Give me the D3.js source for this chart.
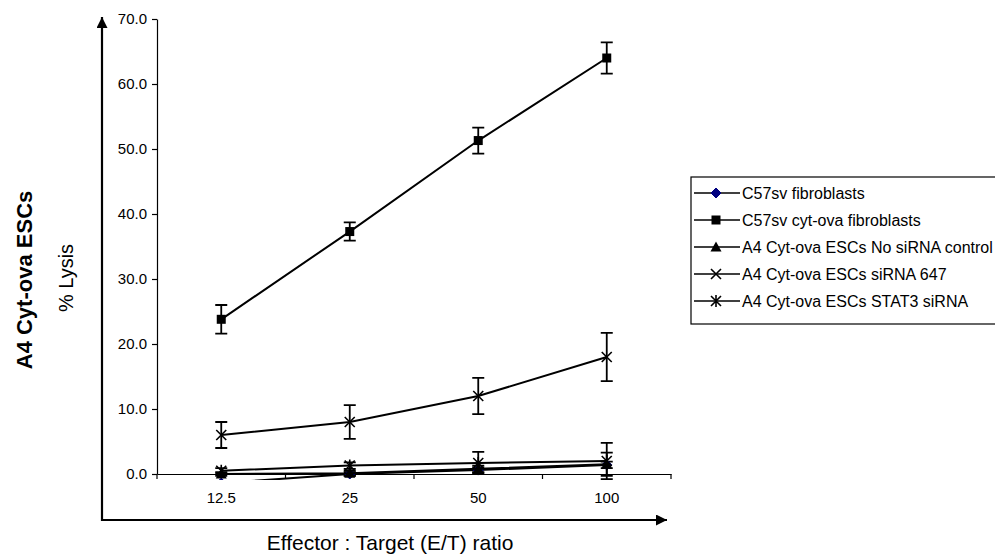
<!DOCTYPE html>
<html>
<head>
<meta charset="utf-8">
<script src="https://cdn.jsdelivr.net/npm/d3@7"></script>
<style>
  body { margin: 0; background: #fff; }
  svg { display: block; font-family: Arial, "Liberation Sans", sans-serif; }
</style>
</head>
<body>
<svg id="chart" width="995" height="555"></svg>
<script>
// E/T ratios on the x axis
const categories = ["12.5", "25", "50", "100"]
const yTicks = [0, 10, 20, 30, 40, 50, 60, 70]

const seriesNames = [
	"C57sv fibroblasts",
	"C57sv cyt-ova fibroblasts",
	"A4 Cyt-ova ESCs No siRNA control",
	"A4 Cyt-ova ESCs siRNA 647",
	"A4 Cyt-ova ESCs STAT3 siRNA"
]
const markerTypes = ["diamond", "square", "triangle", "x", "star"]

// % lysis
const fibroblasts = [-1.4, 0.0, 0.6, 1.4]
const fibroblastsErr = [0.3, 0.3, 0.4, 0.5]
const cytOvaFibroblasts = [23.8, 37.3, 51.3, 64.0]
const cytOvaFibroblastsErr = [2.2, 1.4, 2.0, 2.4]
const noSirna = [0.0, 0.1, 0.8, 1.5]
const noSirnaErr = [0.3, 0.4, 0.5, 1.8]
const sirna647 = [6.0, 8.0, 12.0, 18.0]
const sirna647Err = [2.0, 2.6, 2.8, 3.7]
const stat3 = [0.5, 1.3, 1.7, 2.0]
const stat3Err = [0.4, 0.5, 1.7, 2.8]

const seriesValues = [fibroblasts, cytOvaFibroblasts, noSirna, sirna647, stat3]
const seriesErrors = [fibroblastsErr, cytOvaFibroblastsErr, noSirnaErr, sirna647Err, stat3Err]

const series = seriesNames.map((name, i) => ({
	name,
	marker: markerTypes[i],
	values: seriesValues[i].map((v, j) => ({ cat: categories[j], v, err: seriesErrors[i][j] }))
}))

const svg = d3.select("#chart")

const plotLeft = 157
const plotRight = 671
const plotTop = 19
const plotBottom = 474

const x = d3.scaleBand().domain(categories).range([plotLeft, plotRight])
const y = d3.scaleLinear().domain([0, 70]).range([plotBottom, plotTop])
const cx = c => x(c) + x.bandwidth() / 2

// marker drawing
const drawMarker = (g, type) => {
	if (type === "diamond") {
		g.append("path").attr("d", "M0,-5L5,0L0,5L-5,0Z").attr("fill", "#000080").attr("stroke", "#000080")
	} else if (type === "square") {
		g.append("rect").attr("x", -4.5).attr("y", -4.5).attr("width", 9).attr("height", 9).attr("fill", "#000")
	} else if (type === "triangle") {
		g.append("path").attr("d", "M0,-5.5L5.5,4.5L-5.5,4.5Z").attr("fill", "#000")
	} else if (type === "x") {
		g.append("path").attr("d", "M-5,-5L5,5M-5,5L5,-5").attr("stroke", "#000").attr("stroke-width", 1.6)
	} else if (type === "star") {
		g.append("path").attr("d", "M-5,-5L5,5M-5,5L5,-5M0,-6L0,6").attr("stroke", "#000").attr("stroke-width", 1.6)
	}
}

// outer arrows
const defs = svg.append("defs")
defs.append("marker")
	.attr("id", "arrow")
	.attr("viewBox", "0 0 10 10")
	.attr("refX", 10)
	.attr("refY", 5)
	.attr("markerWidth", 12)
	.attr("markerHeight", 11)
	.attr("markerUnits", "userSpaceOnUse")
	.attr("orient", "auto")
	.append("path")
	.attr("d", "M0,0L10,5L0,10Z")
	.attr("fill", "#000")
defs.append("clipPath").attr("id", "plot-clip")
	.append("rect")
	.attr("x", plotLeft)
	.attr("y", 0)
	.attr("width", plotRight - plotLeft + 20)
	.attr("height", plotBottom + 6)

svg.append("line")
	.attr("x1", 102).attr("y1", 521).attr("x2", 102).attr("y2", 17)
	.attr("stroke", "#000").attr("stroke-width", 2.2)
	.attr("marker-end", "url(#arrow)")
svg.append("line")
	.attr("x1", 101).attr("y1", 520).attr("x2", 667).attr("y2", 520)
	.attr("stroke", "#000").attr("stroke-width", 2.2)
	.attr("marker-end", "url(#arrow)")

// y axis
const yAxis = svg.append("g")
	.attr("transform", `translate(${plotLeft},0)`)
	.call(d3.axisLeft(y).tickValues(yTicks).tickFormat(d3.format(".1f")).tickSize(5).tickSizeOuter(0).tickPadding(5))
yAxis.selectAll("text").attr("font-size", 15).attr("fill", "#000").attr("font-family", "Arial, 'Liberation Sans', sans-serif")
yAxis.selectAll("line, path").attr("stroke", "#000").attr("stroke-width", 1.2)

// x axis: labels at category centres, ticks at category boundaries
const xAxis = svg.append("g")
	.attr("transform", `translate(0,${plotBottom})`)
	.call(d3.axisBottom(x).tickSize(0).tickSizeOuter(0).tickPadding(18))
xAxis.selectAll("text").attr("font-size", 15).attr("fill", "#000").attr("font-family", "Arial, 'Liberation Sans', sans-serif")
xAxis.select(".domain").attr("stroke", "#000").attr("stroke-width", 1.2)
const boundaries = categories.map(c => x(c)).concat([x.range()[1]])
xAxis.selectAll(".bound-tick")
	.data(boundaries)
	.enter()
	.append("line")
	.classed("bound-tick", true)
	.attr("x1", d => d).attr("x2", d => d)
	.attr("y1", 0).attr("y2", 5)
	.attr("stroke", "#000").attr("stroke-width", 1.2)

// series
const plot = svg.append("g").attr("clip-path", "url(#plot-clip)")
const line = d3.line().x(d => cx(d.cat)).y(d => y(d.v))

series.forEach(s => {
	const g = plot.append("g")
	g.append("path")
		.datum(s.values)
		.attr("d", line)
		.attr("fill", "none")
		.attr("stroke", "#000")
		.attr("stroke-width", 2)

	g.selectAll(".err")
		.data(s.values)
		.enter()
		.append("path")
		.classed("err", true)
		.attr("d", d => {
			const px = cx(d.cat)
			const top = y(d.v + d.err)
			const bot = y(d.v - d.err)
			return `M${px},${top}L${px},${bot}M${px - 6},${top}L${px + 6},${top}M${px - 6},${bot}L${px + 6},${bot}`
		})
		.attr("fill", "none")
		.attr("stroke", "#000")
		.attr("stroke-width", 1.8)

	s.values.forEach(d => {
		const m = g.append("g").attr("transform", `translate(${cx(d.cat)},${y(d.v)})`)
		drawMarker(m, s.marker)
	})
})

// axis titles
svg.append("text")
	.attr("transform", "translate(32,280) rotate(-90)")
	.attr("text-anchor", "middle")
	.attr("font-size", 22)
	.attr("font-weight", "bold")
	.text("A4 Cyt-ova ESCs")
svg.append("text")
	.attr("transform", "translate(73,278) rotate(-90)")
	.attr("text-anchor", "middle")
	.attr("font-size", 20)
	.text("% Lysis")
svg.append("text")
	.attr("x", 390)
	.attr("y", 550)
	.attr("text-anchor", "middle")
	.attr("font-size", 21)
	.text("Effector : Target (E/T) ratio")

// legend (box runs off the right edge, as in the original)
const legend = svg.append("g")
legend.append("rect")
	.attr("x", 691).attr("y", 177)
	.attr("width", 320).attr("height", 147)
	.attr("fill", "#fff").attr("stroke", "#000").attr("stroke-width", 1.2)

const rows = legend.selectAll(".row")
	.data(series)
	.enter()
	.append("g")
	.classed("row", true)
	.attr("transform", (d, i) => `translate(694,${193 + i * 27})`)
rows.append("line")
	.attr("x1", 0).attr("x2", 46).attr("y1", 0).attr("y2", 0)
	.attr("stroke", "#000").attr("stroke-width", 1.6)
rows.each(function (d) {
	drawMarker(d3.select(this).append("g").attr("transform", "translate(22,0)"), d.marker)
})
rows.append("text")
	.attr("x", 48)
	.attr("y", 0)
	.attr("dy", "0.35em")
	.attr("font-size", 16)
	.text(d => d.name)
</script>
</body>
</html>
